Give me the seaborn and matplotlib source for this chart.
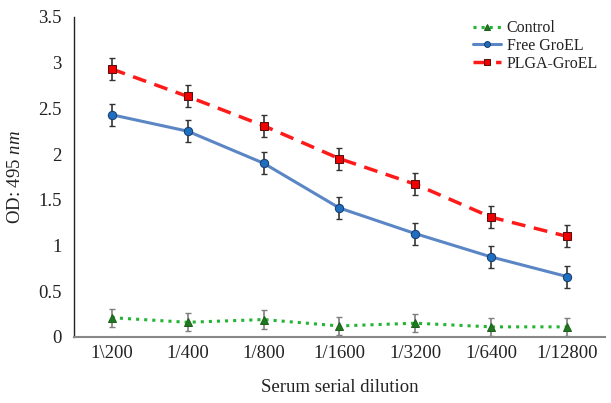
import matplotlib.pyplot as plt
import seaborn as sns
import pandas as pd
import numpy as np

# Data
dilutions = ['1\\200', '1/400', '1/800', '1/1600', '1/3200', '1/6400', '1/12800']
control = [0.21, 0.16, 0.19, 0.12, 0.15, 0.11, 0.11]
free_groel = [2.43, 2.25, 1.90, 1.41, 1.13, 0.875, 0.66]
plga_groel = [2.93, 2.63, 2.31, 1.95, 1.67, 1.31, 1.10]
control_err = [0.10, 0.10, 0.10, 0.10, 0.10, 0.10, 0.10]
free_err = [0.12, 0.12, 0.12, 0.12, 0.12, 0.12, 0.12]
plga_err = [0.12, 0.12, 0.12, 0.12, 0.12, 0.12, 0.12]

sns.set_style('white')
plt.rcParams['font.family'] = ['Liberation Serif', 'DejaVu Serif']
plt.rcParams['mathtext.fontset'] = 'custom'
plt.rcParams['mathtext.rm'] = 'Liberation Serif'
plt.rcParams['mathtext.it'] = 'Liberation Serif:italic'

fig = plt.figure(figsize=(6.11, 4.03), dpi=100)
ax = fig.add_axes([0.121, 0.164, 0.869, 0.794])

pos = np.arange(len(dilutions))

series = [
    ('Control', control, control_err, dict(color='#22B533', linestyle=':', linewidth=2.2,
                                           marker='^', markersize=6, markerfacecolor='#1E7A1E',
                                           markeredgecolor='#1E5E1E'), '#7F7F7F'),
    ('Free GroEL', free_groel, free_err, dict(color='#5B86C5', linestyle='-', linewidth=2.2,
                                              marker='o', markersize=6, markerfacecolor='#1F6FC0',
                                              markeredgecolor='#1A3E6E'), '#333333'),
    ('PLGA-GroEL', plga_groel, plga_err, dict(color='#FF1A1A', linestyle=(0, (4, 2.5)), linewidth=2.5,
                                              marker='s', markersize=6, markerfacecolor='#F00000',
                                              markeredgecolor='#5A1010'), '#333333'),
]

for name, vals, errs, style, ecol in series:
    ax.errorbar(pos, vals, yerr=errs, fmt='none', ecolor=ecol, elinewidth=1.2,
                capsize=2.5, capthick=1.0, zorder=2)
    df = pd.DataFrame({'x': pos, 'y': vals})
    sns.lineplot(data=df, x='x', y='y', ax=ax, label=name, zorder=3, **style)

ax.set_xlim(-0.5, len(dilutions) - 0.5)
ax.set_ylim(0, 3.5)
ax.set_xticks(pos)
ax.set_xticklabels(dilutions)
ax.set_yticks([0, 0.5, 1, 1.5, 2, 2.5, 3, 3.5])
ax.set_yticklabels(['0', '0.5', '1', '1.5', '2', '2.5', '3', '3.5'])
ax.tick_params(axis='both', length=0, labelsize=13.5, colors='#222222')
ax.tick_params(axis='x', pad=6)
ax.tick_params(axis='y', pad=9)

for side in ['top', 'right']:
    ax.spines[side].set_visible(False)
ax.spines['left'].set_color('#222222')
ax.spines['bottom'].set_color('#888888')
ax.spines['left'].set_linewidth(1.0)
ax.spines['bottom'].set_linewidth(1.5)

ax.set_xlabel('Serum serial dilution', fontsize=13.5, color='#222222', labelpad=12)
ax.set_ylabel('OD: 495 $\\mathit{nm}$', fontsize=13.5, color='#222222', labelpad=10)

leg = ax.legend(loc='upper right', bbox_to_anchor=(1.005, 1.02), frameon=False, fontsize=11.5,
                handlelength=1.75, handletextpad=0.35, labelspacing=0.12, borderaxespad=0.2,
                markerscale=0.7)
for t in leg.get_texts():
    t.set_color('#222222')

fig.savefig('out.png', dpi=100)
